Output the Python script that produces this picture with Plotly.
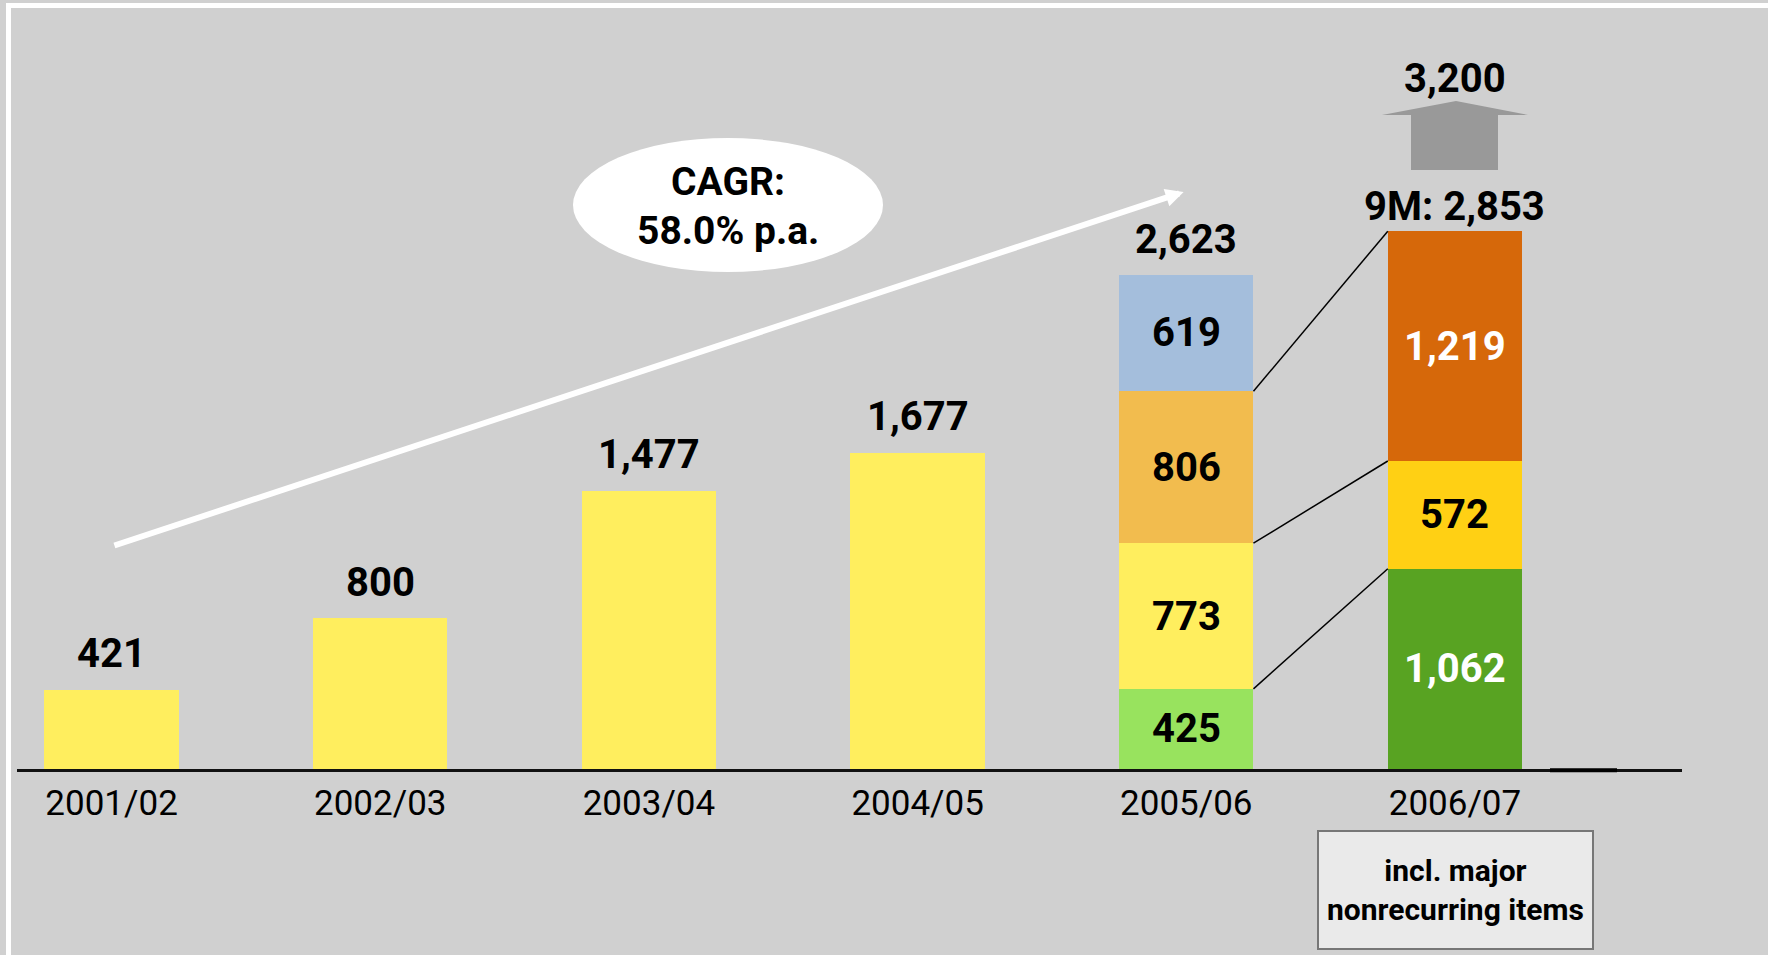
import plotly.graph_objects as go

# ---------------- data ----------------
categories = ["2001/02", "2002/03", "2003/04", "2004/05", "2005/06", "2006/07"]
simple_values = [421, 800, 1477, 1677]                # first four years (single bars)
seg_2005 = [425, 773, 806, 619]                        # 2005/06 stacked segments (bottom -> top)
seg_2005_colors = ["#98E35E", "#FFEE5E", "#F2BC4E", "#A4BEDC"]
seg_2006 = [1062, 572, 1219]                           # 2006/07 9M stacked segments
seg_2006_colors = ["#58A322", "#FFD014", "#D6680A"]
seg_2006_textcolors = ["white", "black", "white"]
forecast_2006 = 3200
cagr_lines = ["CAGR:", "58.0% p.a."]
box_text = "incl. major<br>nonrecurring items"

# ---------------- layout geometry ----------------
W, H = 1768, 955
L, R, T, B = 17, 86, 15, 186
PW, PH = W - L - R, H - T - B
YMAX = 4000
BAR_W = 0.5
XR = [-0.352, 5.845]
BG = "#D0D0D0"
FONT = "Roboto"

def px(xp):  # pixel -> paper x
    return (xp - L) / PW

def py(yp):  # pixel -> paper y
    return (H - B - yp) / PH

fig = go.Figure()

# simple yellow bars
fig.add_trace(go.Bar(x=list(range(4)), y=simple_values, marker_color="#FFEE5E",
                     width=BAR_W, marker_line_width=0, hoverinfo="skip"))

# stacked segments: 2005/06 (index 4) and 2006/07 (index 5)
n_layers = max(len(seg_2005), len(seg_2006))
for k in range(n_layers):
    xs, ys, cs = [], [], []
    if k < len(seg_2005):
        xs.append(4); ys.append(seg_2005[k]); cs.append(seg_2005_colors[k])
    if k < len(seg_2006):
        xs.append(5); ys.append(seg_2006[k]); cs.append(seg_2006_colors[k])
    fig.add_trace(go.Bar(x=xs, y=ys, marker_color=cs, width=BAR_W,
                         marker_line_width=0, hoverinfo="skip"))

ann = []
shapes = []
lab_font = dict(family=FONT, size=40, color="black", weight=700)

# labels above simple bars
for i, v in enumerate(simple_values):
    ann.append(dict(x=i, y=v, text=f"{v:,}", showarrow=False, yanchor="middle",
                    yshift=36, font=lab_font))

# inside labels for stacks
def inside_labels(xi, segs, colors):
    cum = 0
    for v, c in zip(segs, colors):
        ann.append(dict(x=xi, y=cum + v / 2, text=f"{v:,}", showarrow=False,
                        yanchor="middle", font=dict(family=FONT, size=40, color=c, weight=700)))
        cum += v

inside_labels(4, seg_2005, ["black"] * len(seg_2005))
inside_labels(5, seg_2006, seg_2006_textcolors)

total_2005 = sum(seg_2005)
total_2006 = sum(seg_2006)
ann.append(dict(x=4, y=total_2005, text=f"{total_2005:,}", showarrow=False,
                yanchor="middle", yshift=35, font=lab_font))
ann.append(dict(x=5, y=total_2006, text=f"9M: {total_2006:,}", showarrow=False,
                yanchor="middle", yshift=25, font=lab_font))
ann.append(dict(x=5, y=total_2006, text=f"{forecast_2006:,}", showarrow=False,
                yanchor="middle", yshift=153, font=lab_font))

# connector lines between 2005/06 and 2006/07 segment tops
c05 = [sum(seg_2005[:k + 1]) for k in range(len(seg_2005))]
c06 = [sum(seg_2006[:k + 1]) for k in range(len(seg_2006))]
for k in range(len(seg_2006)):
    shapes.append(dict(type="line", xref="x", yref="y", x0=4 + BAR_W / 2, y0=c05[k],
                       x1=5 - BAR_W / 2, y1=c06[k], line=dict(color="black", width=1.5)))

# white CAGR trend arrow
ann.append(dict(x=3.99, y=3061, ax=0.005, ay=1183, xref="x", yref="y", axref="x", ayref="y",
                text="", showarrow=True, arrowhead=2, arrowsize=0.6, arrowwidth=6,
                arrowcolor="white"))

# CAGR ellipse
shapes.append(dict(type="circle", xref="paper", yref="paper", x0=px(573), x1=px(883),
                   y0=py(272), y1=py(138), fillcolor="white", line=dict(width=0), layer="above"))
for txt, yc in zip(cagr_lines, [182, 231]):
    ann.append(dict(xref="paper", yref="paper", x=px(728), y=py(yc), text=txt,
                    showarrow=False, yanchor="middle", xanchor="center",
                    font=dict(family=FONT, size=39, color="black", weight=700)))

# gray forecast arrow
pts = [(1456, 101), (1528, 115), (1498, 115), (1498, 170), (1411, 170), (1411, 115), (1382, 115)]
path = "M " + " L ".join(f"{px(a):.5f},{py(b):.5f}" for a, b in pts) + " Z"
shapes.append(dict(type="path", xref="paper", yref="paper", path=path,
                   fillcolor="#999999", line=dict(width=0)))

# note box
shapes.append(dict(type="rect", xref="paper", yref="paper", x0=px(1318), x1=px(1593),
                   y0=py(949), y1=py(831), fillcolor="#EAEAEA",
                   line=dict(color="#777777", width=2)))
ann.append(dict(xref="paper", yref="paper", x=px(1455.5), y=py(890), text=box_text,
                showarrow=False, yanchor="middle", xanchor="center",
                font=dict(family=FONT, size=30, color="black", weight=700)))

# white frame lines
shapes.append(dict(type="line", xref="paper", yref="paper", x0=px(6), x1=px(W + 5),
                   y0=py(5.5), y1=py(5.5), line=dict(color="white", width=5)))
shapes.append(dict(type="line", xref="paper", yref="paper", x0=px(8.5), x1=px(8.5),
                   y0=py(3), y1=py(H + 5), line=dict(color="white", width=5)))

# small thicker axis segment on the right
shapes.append(dict(type="line", xref="paper", yref="paper", x0=px(1550), x1=px(1617),
                   y0=py(770.3), y1=py(770.3), line=dict(color="#000000", width=4)))

fig.update_layout(
    width=W, height=H, barmode="stack", showlegend=False,
    paper_bgcolor=BG, plot_bgcolor=BG,
    margin=dict(l=L, r=R, t=T, b=B, pad=0),
    annotations=ann, shapes=shapes,
    xaxis=dict(range=XR, tickvals=list(range(len(categories))), ticktext=categories,
               showline=True, linecolor="#111111", linewidth=2.5, ticks="",
               showgrid=False, zeroline=False, ticklabelstandoff=1,
               tickfont=dict(family=FONT, size=35, color="black")),
    yaxis=dict(range=[0, YMAX], visible=False, showgrid=False, zeroline=False),
)

fig.write_html("out.html", config={"displayModeBar": False},
               post_script="document.body.style.margin='0';document.body.style.overflow='hidden';")
